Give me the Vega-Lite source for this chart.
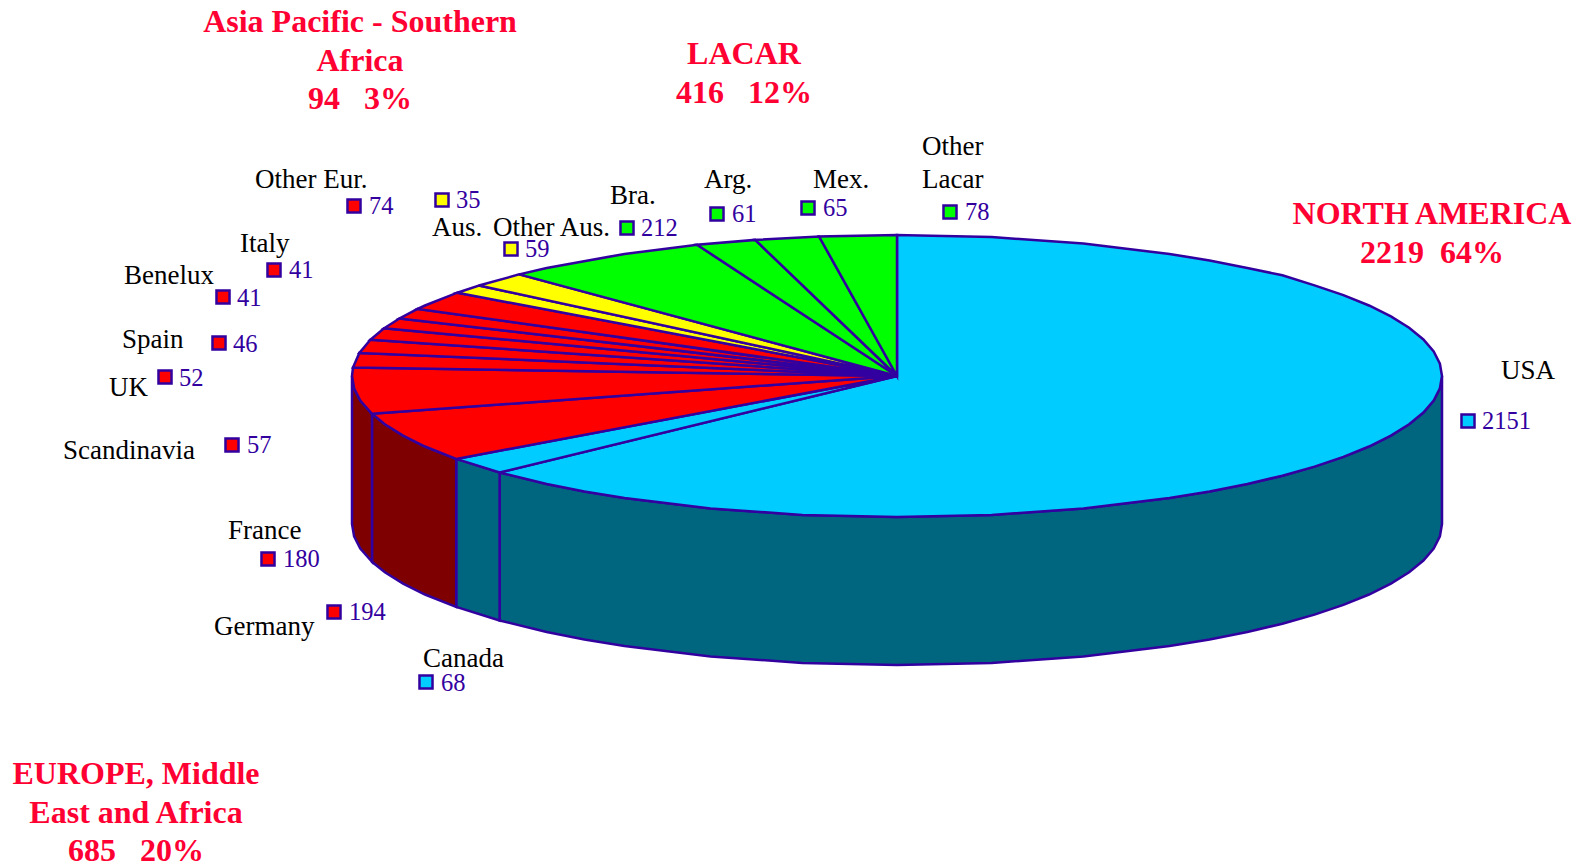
{"$schema":"https://vega.github.io/schema/vega-lite/v6.json","width":1581,"height":864,"padding":0,"autosize":{"type":"none"},"background":"white","view":{"stroke":null},
"datasets":{
"sides":[
{"p":"USA side","g":"North America side","i":0,"x":1442,"y":376},{"p":"USA side","g":"North America side","i":0.5,"x":1439.9,"y":388.3},{"p":"USA side","g":"North America side","i":1,"x":1433.7,"y":400.5},{"p":"USA side","g":"North America side","i":1.5,"x":1423.4,"y":412.5},{"p":"USA side","g":"North America side","i":2,"x":1409.1,"y":424.2},{"p":"USA side","g":"North America side","i":2.5,"x":1390.9,"y":435.6},{"p":"USA side","g":"North America side","i":3,"x":1369,"y":446.5},{"p":"USA side","g":"North America side","i":3.5,"x":1343.4,"y":456.9},{"p":"USA side","g":"North America side","i":4,"x":1314.5,"y":466.6},{"p":"USA side","g":"North America side","i":4.5,"x":1282.4,"y":475.7},{"p":"USA side","g":"North America side","i":5,"x":1247.3,"y":484},{"p":"USA side","g":"North America side","i":5.5,"x":1209.6,"y":491.5},{"p":"USA side","g":"North America side","i":6,"x":1169.5,"y":498.1},{"p":"USA side","g":"North America side","i":7,"x":1083.4,"y":508.5},{"p":"USA side","g":"North America side","i":8,"x":991.6,"y":514.9},{"p":"USA side","g":"North America side","i":9,"x":897,"y":517},{"p":"USA side","g":"North America side","i":10,"x":802.4,"y":514.9},{"p":"USA side","g":"North America side","i":11,"x":710.6,"y":508.5},{"p":"USA side","g":"North America side","i":12,"x":624.5,"y":498.1},{"p":"USA side","g":"North America side","i":12.5,"x":584.4,"y":491.5},{"p":"USA side","g":"North America side","i":13,"x":546.7,"y":484},{"p":"USA side","g":"North America side","i":14,"x":499.6,"y":472.5},{"p":"USA side","g":"North America side","i":15,"x":499.6,"y":620.5},{"p":"USA side","g":"North America side","i":16,"x":546.7,"y":632},{"p":"USA side","g":"North America side","i":16.5,"x":584.4,"y":639.5},{"p":"USA side","g":"North America side","i":17,"x":624.5,"y":646.1},{"p":"USA side","g":"North America side","i":18,"x":710.6,"y":656.5},{"p":"USA side","g":"North America side","i":19,"x":802.4,"y":662.9},{"p":"USA side","g":"North America side","i":20,"x":897,"y":665},{"p":"USA side","g":"North America side","i":21,"x":991.6,"y":662.9},{"p":"USA side","g":"North America side","i":22,"x":1083.4,"y":656.5},{"p":"USA side","g":"North America side","i":23,"x":1169.5,"y":646.1},{"p":"USA side","g":"North America side","i":23.5,"x":1209.6,"y":639.5},{"p":"USA side","g":"North America side","i":24,"x":1247.3,"y":632},{"p":"USA side","g":"North America side","i":24.5,"x":1282.4,"y":623.7},{"p":"USA side","g":"North America side","i":25,"x":1314.5,"y":614.6},{"p":"USA side","g":"North America side","i":25.5,"x":1343.4,"y":604.9},{"p":"USA side","g":"North America side","i":26,"x":1369,"y":594.5},{"p":"USA side","g":"North America side","i":26.5,"x":1390.9,"y":583.6},{"p":"USA side","g":"North America side","i":27,"x":1409.1,"y":572.2},{"p":"USA side","g":"North America side","i":27.5,"x":1423.4,"y":560.5},{"p":"USA side","g":"North America side","i":28,"x":1433.7,"y":548.5},{"p":"USA side","g":"North America side","i":28.5,"x":1439.9,"y":536.3},{"p":"USA side","g":"North America side","i":29,"x":1442,"y":524},
{"p":"Canada side","g":"North America side","i":0,"x":499.6,"y":472.5},{"p":"Canada side","g":"North America side","i":1,"x":456.2,"y":458.9},{"p":"Canada side","g":"North America side","i":2,"x":456.2,"y":606.9},{"p":"Canada side","g":"North America side","i":3,"x":499.6,"y":620.5},
{"p":"Germany side","g":"Europe side","i":0,"x":456.2,"y":458.9},{"p":"Germany side","g":"Europe side","i":1,"x":425,"y":446.5},{"p":"Germany side","g":"Europe side","i":1.5,"x":403.1,"y":435.6},{"p":"Germany side","g":"Europe side","i":2,"x":384.9,"y":424.2},{"p":"Germany side","g":"Europe side","i":3,"x":372,"y":413.8},{"p":"Germany side","g":"Europe side","i":4,"x":372,"y":561.8},{"p":"Germany side","g":"Europe side","i":5,"x":384.9,"y":572.2},{"p":"Germany side","g":"Europe side","i":5.5,"x":403.1,"y":583.6},{"p":"Germany side","g":"Europe side","i":6,"x":425,"y":594.5},{"p":"Germany side","g":"Europe side","i":7,"x":456.2,"y":606.9},
{"p":"France side","g":"Europe side","i":0,"x":372,"y":413.8},{"p":"France side","g":"Europe side","i":1,"x":360.3,"y":400.5},{"p":"France side","g":"Europe side","i":1.5,"x":354.1,"y":388.3},{"p":"France side","g":"Europe side","i":2,"x":352,"y":376},{"p":"France side","g":"Europe side","i":3,"x":352,"y":524},{"p":"France side","g":"Europe side","i":3.5,"x":354.1,"y":536.3},{"p":"France side","g":"Europe side","i":4,"x":360.3,"y":548.5},{"p":"France side","g":"Europe side","i":5,"x":372,"y":561.8}
],
"tops":[
{"p":"USA","g":"North America","i":0,"x":897,"y":376},{"p":"USA","g":"North America","i":1,"x":897,"y":235},{"p":"USA","g":"North America","i":2,"x":991.6,"y":237.1},{"p":"USA","g":"North America","i":3,"x":1083.4,"y":243.5},{"p":"USA","g":"North America","i":4,"x":1169.5,"y":253.9},{"p":"USA","g":"North America","i":4.5,"x":1209.6,"y":260.5},{"p":"USA","g":"North America","i":5,"x":1247.3,"y":268},{"p":"USA","g":"North America","i":5.5,"x":1282.4,"y":275.3},{"p":"USA","g":"North America","i":6,"x":1314.5,"y":285.4},{"p":"USA","g":"North America","i":6.5,"x":1343.4,"y":295.1},{"p":"USA","g":"North America","i":7,"x":1369,"y":305.5},{"p":"USA","g":"North America","i":7.5,"x":1390.9,"y":316.4},{"p":"USA","g":"North America","i":8,"x":1409.1,"y":327.8},{"p":"USA","g":"North America","i":8.5,"x":1423.4,"y":339.5},{"p":"USA","g":"North America","i":9,"x":1433.7,"y":351.5},{"p":"USA","g":"North America","i":9.5,"x":1439.9,"y":363.7},{"p":"USA","g":"North America","i":10,"x":1442,"y":376},{"p":"USA","g":"North America","i":10.5,"x":1439.9,"y":388.3},{"p":"USA","g":"North America","i":11,"x":1433.7,"y":400.5},{"p":"USA","g":"North America","i":11.5,"x":1423.4,"y":412.5},{"p":"USA","g":"North America","i":12,"x":1409.1,"y":424.2},{"p":"USA","g":"North America","i":12.5,"x":1390.9,"y":435.6},{"p":"USA","g":"North America","i":13,"x":1369,"y":446.5},{"p":"USA","g":"North America","i":13.5,"x":1343.4,"y":456.9},{"p":"USA","g":"North America","i":14,"x":1314.5,"y":466.6},{"p":"USA","g":"North America","i":14.5,"x":1282.4,"y":475.7},{"p":"USA","g":"North America","i":15,"x":1247.3,"y":484},{"p":"USA","g":"North America","i":15.5,"x":1209.6,"y":491.5},{"p":"USA","g":"North America","i":16,"x":1169.5,"y":498.1},{"p":"USA","g":"North America","i":17,"x":1083.4,"y":508.5},{"p":"USA","g":"North America","i":18,"x":991.6,"y":514.9},{"p":"USA","g":"North America","i":19,"x":897,"y":517},{"p":"USA","g":"North America","i":20,"x":802.4,"y":514.9},{"p":"USA","g":"North America","i":21,"x":710.6,"y":508.5},{"p":"USA","g":"North America","i":22,"x":624.5,"y":498.1},{"p":"USA","g":"North America","i":22.5,"x":584.4,"y":491.5},{"p":"USA","g":"North America","i":23,"x":546.7,"y":484},{"p":"USA","g":"North America","i":24,"x":499.6,"y":472.5},
{"p":"Canada","g":"North America","i":0,"x":897,"y":376},{"p":"Canada","g":"North America","i":1,"x":499.6,"y":472.5},{"p":"Canada","g":"North America","i":2,"x":456.2,"y":458.9},
{"p":"Germany","g":"Europe","i":0,"x":897,"y":376},{"p":"Germany","g":"Europe","i":1,"x":456.2,"y":458.9},{"p":"Germany","g":"Europe","i":2,"x":425,"y":446.5},{"p":"Germany","g":"Europe","i":2.5,"x":403.1,"y":435.6},{"p":"Germany","g":"Europe","i":3,"x":384.9,"y":424.2},{"p":"Germany","g":"Europe","i":4,"x":372,"y":413.8},
{"p":"France","g":"Europe","i":0,"x":897,"y":376},{"p":"France","g":"Europe","i":1,"x":372,"y":413.8},{"p":"France","g":"Europe","i":2,"x":360.3,"y":400.5},{"p":"France","g":"Europe","i":2.5,"x":354.1,"y":388.3},{"p":"France","g":"Europe","i":3,"x":352,"y":376},{"p":"France","g":"Europe","i":4,"x":353,"y":367.6},
{"p":"Scandinavia","g":"Europe","i":0,"x":897,"y":376},{"p":"Scandinavia","g":"Europe","i":1,"x":353,"y":367.6},{"p":"Scandinavia","g":"Europe","i":2,"x":359.4,"y":352.9},
{"p":"UK","g":"Europe","i":0,"x":897,"y":376},{"p":"UK","g":"Europe","i":1,"x":359.4,"y":352.9},{"p":"UK","g":"Europe","i":2,"x":370.4,"y":339.7},
{"p":"Spain","g":"Europe","i":0,"x":897,"y":376},{"p":"Spain","g":"Europe","i":1,"x":370.4,"y":339.7},{"p":"Spain","g":"Europe","i":2,"x":384.1,"y":328.3},
{"p":"Benelux","g":"Europe","i":0,"x":897,"y":376},{"p":"Benelux","g":"Europe","i":1,"x":384.1,"y":328.3},{"p":"Benelux","g":"Europe","i":2,"x":399.5,"y":318.5},
{"p":"Italy","g":"Europe","i":0,"x":897,"y":376},{"p":"Italy","g":"Europe","i":1,"x":399.5,"y":318.5},{"p":"Italy","g":"Europe","i":2,"x":417.7,"y":308.9},
{"p":"Other Eur.","g":"Europe","i":0,"x":897,"y":376},{"p":"Other Eur.","g":"Europe","i":1,"x":417.7,"y":308.9},{"p":"Other Eur.","g":"Europe","i":2,"x":425,"y":305.5},{"p":"Other Eur.","g":"Europe","i":3,"x":457.3,"y":292.7},
{"p":"Aus.","g":"Asia Pacific","i":0,"x":897,"y":376},{"p":"Aus.","g":"Asia Pacific","i":1,"x":457.3,"y":292.7},{"p":"Aus.","g":"Asia Pacific","i":2,"x":479,"y":285.5},
{"p":"Other Aus.","g":"Asia Pacific","i":0,"x":897,"y":376},{"p":"Other Aus.","g":"Asia Pacific","i":1,"x":479,"y":285.5},{"p":"Other Aus.","g":"Asia Pacific","i":2,"x":519.2,"y":274.4},
{"p":"Bra.","g":"LACAR","i":0,"x":897,"y":376},{"p":"Bra.","g":"LACAR","i":1,"x":519.2,"y":274.4},{"p":"Bra.","g":"LACAR","i":2,"x":546.7,"y":268},{"p":"Bra.","g":"LACAR","i":3,"x":624.5,"y":253.9},{"p":"Bra.","g":"LACAR","i":4,"x":697.1,"y":244.8},
{"p":"Arg.","g":"LACAR","i":0,"x":897,"y":376},{"p":"Arg.","g":"LACAR","i":1,"x":697.1,"y":244.8},{"p":"Arg.","g":"LACAR","i":2,"x":755.2,"y":239.9},
{"p":"Mex.","g":"LACAR","i":0,"x":897,"y":376},{"p":"Mex.","g":"LACAR","i":1,"x":755.2,"y":239.9},{"p":"Mex.","g":"LACAR","i":2,"x":819.1,"y":236.5},
{"p":"Other Lacar","g":"LACAR","i":0,"x":897,"y":376},{"p":"Other Lacar","g":"LACAR","i":1,"x":819.1,"y":236.5},{"p":"Other Lacar","g":"LACAR","i":2,"x":897,"y":235}
],
"items":[
{"name":"USA","value":2151,"g":"North America","lx":1501,"ly":379,"mx":1468,"my":421,"vx":1482,"vy":429},
{"name":"Canada","value":68,"g":"North America","lx":423,"ly":667,"mx":426,"my":682,"vx":441,"vy":691},
{"name":"Germany","value":194,"g":"Europe","lx":214,"ly":635,"mx":334,"my":612,"vx":349,"vy":620},
{"name":"France","value":180,"g":"Europe","lx":228,"ly":539,"mx":268,"my":559,"vx":283,"vy":567},
{"name":"Scandinavia","value":57,"g":"Europe","lx":63,"ly":459,"mx":232,"my":445,"vx":247,"vy":453},
{"name":"UK","value":52,"g":"Europe","lx":109,"ly":396,"mx":165,"my":377,"vx":179,"vy":386},
{"name":"Spain","value":46,"g":"Europe","lx":122,"ly":348,"mx":219,"my":343,"vx":233,"vy":352},
{"name":"Benelux","value":41,"g":"Europe","lx":124,"ly":284,"mx":223,"my":297,"vx":237,"vy":306},
{"name":"Italy","value":41,"g":"Europe","lx":240,"ly":252,"mx":274,"my":270,"vx":289,"vy":278},
{"name":"Other Eur.","value":74,"g":"Europe","lx":255,"ly":188,"mx":354,"my":206,"vx":369,"vy":214},
{"name":"Aus.","value":35,"g":"Asia Pacific","lx":432,"ly":236,"mx":442,"my":200,"vx":456,"vy":208},
{"name":"Other Aus.","value":59,"g":"Asia Pacific","lx":493,"ly":236,"mx":511,"my":249,"vx":525,"vy":257},
{"name":"Bra.","value":212,"g":"LACAR","lx":610,"ly":204,"mx":627,"my":228,"vx":641,"vy":236},
{"name":"Arg.","value":61,"g":"LACAR","lx":704,"ly":188,"mx":717,"my":214,"vx":732,"vy":222},
{"name":"Mex.","value":65,"g":"LACAR","lx":813,"ly":188,"mx":808,"my":208,"vx":823,"vy":216},
{"name":"Other|Lacar","value":78,"g":"LACAR","lx":922,"ly":155,"mx":950,"my":212,"vx":965,"vy":220}
],
"regions":[
{"t":"Asia Pacific - Southern|Africa|94\u00a0\u00a0\u00a03%","x":360,"y":32},
{"t":"LACAR|416\u00a0\u00a0\u00a012%","x":744,"y":64},
{"t":"NORTH AMERICA|2219\u00a0\u00a064%","x":1432,"y":224},
{"t":"EUROPE, Middle|East and Africa|685\u00a0\u00a0\u00a020%","x":136,"y":784}
]},
"encoding":{
"x":{"type":"quantitative","scale":{"domain":[0,1581],"nice":false,"zero":false},"axis":null},
"y":{"type":"quantitative","scale":{"domain":[864,0],"nice":false,"zero":false},"axis":null}
},
"resolve":{"scale":{"fill":"shared"}},
"layer":[
{"data":{"name":"sides"},"mark":{"type":"line","interpolate":"linear-closed","stroke":"#3300A0","strokeWidth":2.5},
"encoding":{"x":{"field":"x","type":"quantitative"},"y":{"field":"y","type":"quantitative"},"detail":{"field":"p"},"order":{"field":"i"},
"fill":{"field":"g","type":"nominal","legend":null,"scale":{"domain":["North America","Europe","Asia Pacific","LACAR","North America side","Europe side"],"range":["#00CCFF","#FF0000","#FFFF00","#00FF00","#006680","#7F0000"]}}}},
{"data":{"name":"tops"},"mark":{"type":"line","interpolate":"linear-closed","stroke":"#3300A0","strokeWidth":2.5},
"encoding":{"x":{"field":"x","type":"quantitative"},"y":{"field":"y","type":"quantitative"},"detail":{"field":"p"},"order":{"field":"i"},
"fill":{"field":"g","type":"nominal","legend":null}}},
{"data":{"name":"items"},"mark":{"type":"point","shape":"square","filled":false,"size":170,"stroke":"#3300A0","strokeWidth":2.5,"opacity":1},
"encoding":{"x":{"field":"mx","type":"quantitative"},"y":{"field":"my","type":"quantitative"},"fill":{"field":"g","type":"nominal","legend":null}}},
{"data":{"name":"items"},"mark":{"type":"text","font":"Liberation Serif","fontSize":27,"align":"left","baseline":"alphabetic","color":"#000000","lineBreak":"|","lineHeight":33},
"encoding":{"x":{"field":"lx","type":"quantitative"},"y":{"field":"ly","type":"quantitative"},"text":{"field":"name"}}},
{"data":{"name":"items"},"mark":{"type":"text","font":"Liberation Serif","fontSize":24.5,"align":"left","baseline":"alphabetic","color":"#3300A0"},
"encoding":{"x":{"field":"vx","type":"quantitative"},"y":{"field":"vy","type":"quantitative"},"text":{"field":"value"}}},
{"data":{"name":"regions"},"mark":{"type":"text","font":"Liberation Serif","fontSize":32,"fontWeight":"bold","align":"center","baseline":"alphabetic","color":"#FF0033","lineBreak":"|","lineHeight":38.5},
"encoding":{"x":{"field":"x","type":"quantitative"},"y":{"field":"y","type":"quantitative"},"text":{"field":"t"}}}
]}
